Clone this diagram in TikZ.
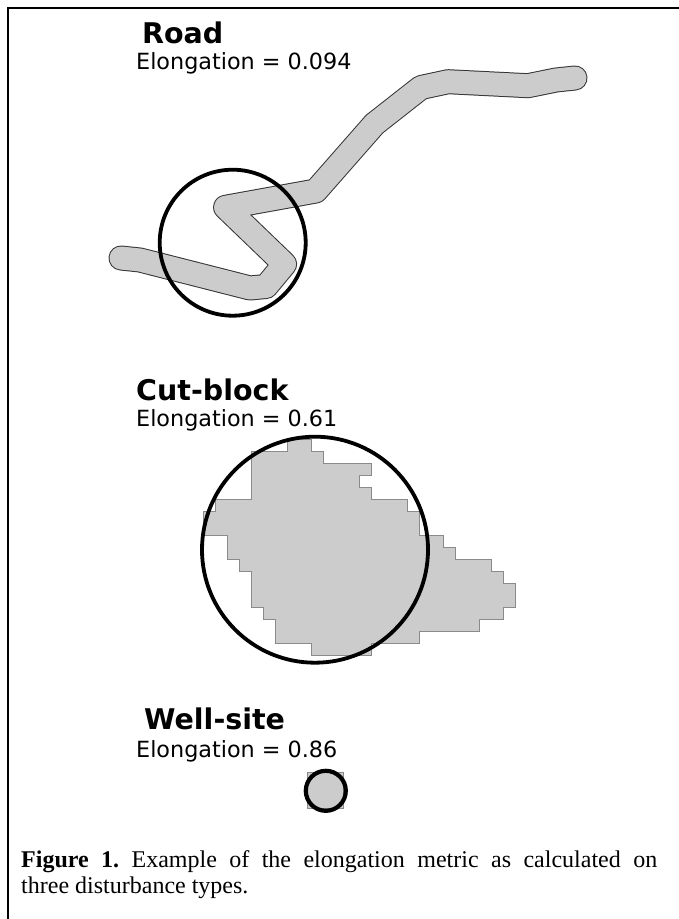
\documentclass[tikz,border=0pt]{standalone}
\usepackage{fontspec}
\setmainfont{Liberation Serif}
\newfontfamily\dvs{DejaVu Sans}
\definecolor{patchfill}{HTML}{CCCCCC}
\definecolor{edgegray}{HTML}{8A8A8A}
\begin{document}
\begin{tikzpicture}[x=1pt,y=-1pt,
  titlelabel/.style={anchor=base west, inner sep=0pt, font=\dvs\bfseries\fontsize{28.5}{32}\selectfont},
  metriclabel/.style={anchor=base west, inner sep=0pt, font=\dvs\fontsize{22.3}{26}\selectfont},
  ring/.style={draw=black, line width=3.8pt},
  patch/.style={fill=patchfill, draw=edgegray, line width=0.9pt},
  roadline/.style={draw=black!80, line width=25pt, line cap=round, line join=round,
    postaction={draw=patchfill, line width=23pt, line cap=round, line join=round}}]
\useasboundingbox (0,0) rectangle (679,919);
\fill[white] (0,0) rectangle (679,919);
% frame
\draw[line width=1.6pt] (679,8) -- (8,8) -- (8,919);

% ---------------- Road ----------------
\node[titlelabel] (roadtitle) at (142,43) {Road};
\node[metriclabel] (roadmetric) at (136,69) {Elongation = 0.094};
\path[roadline] (121,258) -- (140,260) -- (250,288) -- (266,286.5) -- (284.6,264.1)
  -- (225.6,207.3) -- (315.7,191) -- (374.5,124) -- (421,87.5) -- (448,81.7)
  -- (528,85.7) -- (556,80) -- (575,78);
\draw[ring] (232.7,242.7) circle[radius=73];

% ---------------- Cut-block ----------------
\node[titlelabel] (cuttitle) at (136,400) {Cut-block};
\node[metriclabel] (cutmetric) at (136,426) {Elongation = 0.61};
\begin{scope}[shift={(203.3,439.7)}, x=12pt, y=-12pt]
\draw[patch] (7,0) -- (9,0) -- (9,1) -- (10,1) -- (10,2) -- (14,2) -- (14,3) -- (13,3)
  -- (13,4) -- (14,4) -- (14,5) -- (17,5) -- (17,6) -- (18,6) -- (18,8) -- (20,8)
  -- (20,9) -- (21,9) -- (21,10) -- (24,10) -- (24,11) -- (25,11) -- (25,12) -- (26,12)
  -- (26,14) -- (25,14) -- (25,15) -- (23,15) -- (23,16) -- (18,16) -- (18,17) -- (14,17)
  -- (14,18) -- (9,18) -- (9,17) -- (6,17) -- (6,15) -- (5,15) -- (5,14) -- (4,14)
  -- (4,11) -- (3,11) -- (3,10) -- (2,10) -- (2,8) -- (0,8) -- (0,6) -- (1,6) -- (1,5)
  -- (4,5) -- (4,1) -- (7,1) -- cycle;
\end{scope}
\draw[ring] (315,549.7) circle[radius=113];

% ---------------- Well-site ----------------
\node[titlelabel] (welltitle) at (144,729) {Well-site};
\node[metriclabel] (wellmetric) at (136,757) {Elongation = 0.86};
\draw[patch] (307.8,772.8) rectangle (343.8,808.8);
\draw[ring, line width=4.2pt] (325.8,790.8) circle[radius=20];

% ---------------- Caption ----------------
\node[anchor=north west, inner sep=0pt, text width=636pt, align=justify,
  font=\fontsize{24}{26}\selectfont] (caption) at (21,850)
  {\frenchspacing\hyphenpenalty=10000\textbf{Figure 1.} Example of the elongation metric as calculated on\linebreak three disturbance types.};
\end{tikzpicture}
\end{document}
